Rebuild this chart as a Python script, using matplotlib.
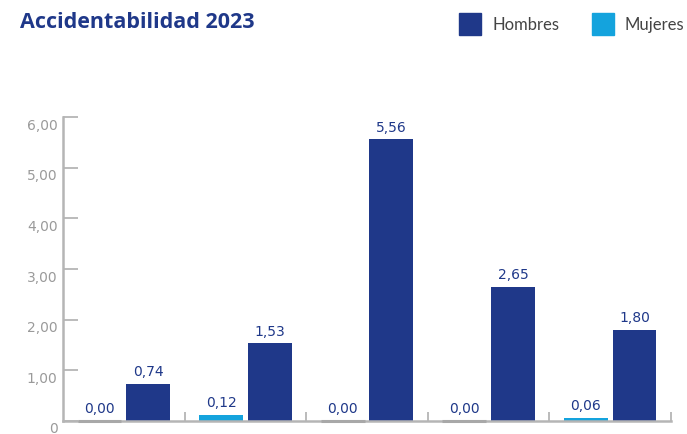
import matplotlib
matplotlib.use("Agg")
import matplotlib.pyplot as plt
import matplotlib.transforms as mtransforms
from matplotlib.patches import Rectangle
import numpy as np

groups = ["G1", "G2", "G3", "G4", "G5"]
mujeres = [0.00, 0.12, 0.00, 0.00, 0.06]
hombres = [0.74, 1.53, 5.56, 2.65, 1.80]
ytick_vals = [0, 1, 2, 3, 4, 5, 6]
ytick_labels = ["0", "1,00", "2,00", "3,00", "4,00", "5,00", "6,00"]
series_names = ["Hombres", "Mujeres"]
title = "Accidentabilidad 2023"

DARK = "#1f3889"
LIGHT = "#14a3dd"
GRAY = "#b5b5b5"
TXTGRAY = "#9a9a9a"
NUMFONT = ["DejaVu Sans"]

plt.rcParams["font.family"] = ["Lato", "DejaVu Sans"]

W, H = 687, 435
fig = plt.figure(figsize=(W / 100, H / 100), dpi=100)
ax = fig.add_axes([63 / W, 13 / H, 608 / W, 304 / H])

x = np.arange(len(groups)) + 0.5
bw = 0.36
off = 0.2

ax.bar(x - off, mujeres, width=bw, color=LIGHT, zorder=2)
ax.bar(x + off, hombres, width=bw, color=DARK, zorder=2)
# zero-valued women bars show a thin gray base
for xi, v in zip(x - off, mujeres):
    if v == 0:
        ax.plot([xi - bw / 2, xi + bw / 2], [0, 0], color="#a8a8a8", lw=2.2,
                zorder=3, clip_on=False, solid_capstyle="butt")

def fmt(v):
    return f"{v:.2f}".replace(".", ",")

for xi, v in zip(x - off, mujeres):
    ax.annotate(fmt(v), (xi, v), xytext=(0, 4), textcoords="offset points",
                ha="center", va="bottom", color=DARK, fontsize=10,
                family=NUMFONT)
for xi, v in zip(x + off, hombres):
    ax.annotate(fmt(v), (xi, v), xytext=(0, 4), textcoords="offset points",
                ha="center", va="bottom", color=DARK, fontsize=10,
                family=NUMFONT)

ax.set_xlim(0, 5)
ax.set_ylim(0, 6)
for s in ["top", "right"]:
    ax.spines[s].set_visible(False)
for s in ["left", "bottom"]:
    ax.spines[s].set_color(GRAY)
    ax.spines[s].set_linewidth(1.8)

ax.set_yticks(ytick_vals)
ax.set_yticklabels(ytick_labels, family=NUMFONT)
ax.tick_params(axis="y", direction="in", length=10.5, width=1.3, color=GRAY,
               labelcolor=TXTGRAY, labelsize=10, pad=4)
shift = mtransforms.ScaledTranslation(0, -6 / 100, fig.dpi_scale_trans)
for lab in ax.get_yticklabels():
    lab.set_transform(lab.get_transform() + shift)

ax.set_xticks([1, 2, 3, 4, 5])
ax.set_xticklabels([])
ax.tick_params(axis="x", direction="in", length=6.5, width=1.3, color=GRAY)

fig.text(20 / W, 1 - 22 / H, title, ha="left", va="center", color=DARK,
         fontsize=15.5, fontweight="bold", family=["Open Sans", "DejaVu Sans"])

# legend
for (sx, name, col) in [(459, series_names[0], DARK), (592, series_names[1], LIGHT)]:
    fig.patches.append(Rectangle((sx / W, 1 - 36 / H), 22 / W, 22 / H,
                                 transform=fig.transFigure, color=col))
    fig.text((sx + 33) / W, 1 - 25 / H, name, ha="left", va="center",
             color="#444444", fontsize=12)

fig.savefig("out.png", dpi=100)
